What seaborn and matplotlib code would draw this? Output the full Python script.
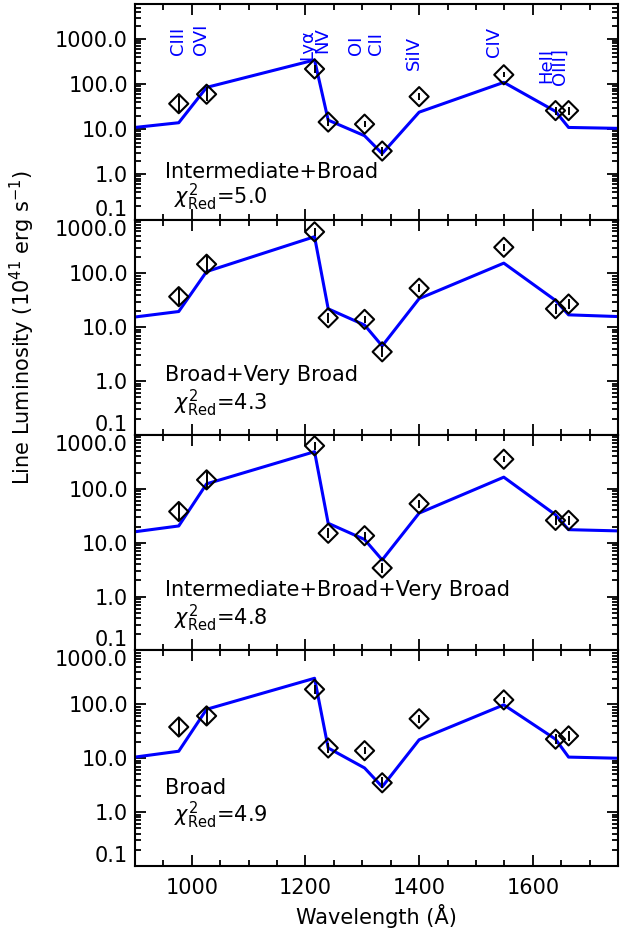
import matplotlib
matplotlib.use("Agg")
import matplotlib.pyplot as plt
import matplotlib.ticker as mticker
import numpy as np
import pandas as pd
import seaborn as sns

# ---------------- data ----------------
line_names = ["CIII", "OVI", "Lyα", "NV", "OI", "CII", "SiIV", "CIV", "HeII", "OIII]"]
line_wave = [977, 1026, 1216, 1240, 1304, 1335, 1400, 1549, 1640, 1663]
label_x = [976, 1016, 1204, 1229, 1289, 1325, 1391, 1531, 1624, 1648]
label_y = [447, 447, 347, 500, 447, 447, 209, 407, 107, 95]

# error bars (dex)
obs_err_dex = [0.18, 0.15, 0.08, 0.09, 0.07, 0.10, 0.07, 0.06, 0.09, 0.09]

obs_p1 = [37, 60, 218, 14.5, 13, 3.3, 53, 162, 26, 26]
obs_p2 = [37, 148, 590, 15, 14, 3.5, 53, 305, 22, 27]
obs_p3 = [38, 147, 630, 15, 13.5, 3.4, 53, 355, 26, 26]
obs_p4 = [38, 61, 190, 15.5, 13.8, 3.5, 54, 121, 22.6, 26]

model_wave = [900, 977, 1026, 1216, 1240, 1304, 1335, 1400, 1549, 1640, 1663, 1750]
model_p1 = [11, 14, 85, 345, 16, 7.2, 2.9, 24, 110, 25, 11, 10.5]
model_p2 = [15.5, 19.6, 108, 480, 22, 11, 4.5, 34, 155, 31.5, 17, 15.8]
model_p3 = [16, 20.5, 124, 490, 23, 11.5, 4.8, 35.5, 165, 33, 17.5, 16.6]
model_p4 = [10.5, 13.5, 81, 305, 15.5, 6.6, 2.95, 22, 98, 22.6, 10.5, 10]

panel_names = ["Intermediate+Broad", "Broad+Very Broad",
               "Intermediate+Broad+Very Broad", "Broad"]
panel_chi = ["5.0", "4.3", "4.8", "4.9"]
panel_ymax = [6000, 1000, 1000, 1000]
ytick_vals = [0.1, 1, 10, 100, 1000]
ytick_labels = ["0.1", "1.0", "10.0", "100.0", "1000.0"]

# ---------------- style ----------------
sns.set_style("ticks")
plt.rcParams["font.family"] = ["DejaVu Sans"]
plt.rcParams["mathtext.fontset"] = "dejavusans"
plt.rcParams["axes.linewidth"] = 1.5
for k in ["text.color", "axes.labelcolor", "xtick.color", "ytick.color"]:
    plt.rcParams[k] = "black"

BLUE = "#0000ff"
FS = 15

obs_all = [obs_p1, obs_p2, obs_p3, obs_p4]
model_all = [model_p1, model_p2, model_p3, model_p4]
name_pos = [(0.062, 0.22), (0.062, 0.28), (0.062, 0.28), (0.062, 0.36)]
chi_pos = [(0.080, 0.104), (0.080, 0.147), (0.080, 0.147), (0.080, 0.236)]

fig = plt.figure(figsize=(6.2, 9.36), dpi=100)
axes = fig.subplots(4, 1, sharex=True, gridspec_kw=dict(hspace=0))
fig.subplots_adjust(left=0.2177, right=0.9968, top=0.9957, bottom=0.0748)

for i, ax in enumerate(axes):
    obs = np.array(obs_all[i], dtype=float)
    err = np.array(obs_err_dex)
    dfm = pd.DataFrame({"wave": model_wave, "lum": model_all[i]})
    dfo = pd.DataFrame({"wave": line_wave, "lum": obs})

    sns.lineplot(data=dfm, x="wave", y="lum", ax=ax, color=BLUE, lw=2.2,
                 sort=False, zorder=2)
    lo = obs - obs / 10 ** err
    hi = obs * 10 ** err - obs
    ax.errorbar(line_wave, obs, yerr=[lo, hi], fmt="none", ecolor="black",
                elinewidth=1.4, capsize=0, zorder=3)
    sns.scatterplot(data=dfo, x="wave", y="lum", ax=ax, marker="D", s=95,
                    facecolor="none", edgecolor="black", linewidth=1.5, zorder=4)

    ax.set_yscale("log")
    ax.set_ylim(0.1, panel_ymax[i])
    ax.set_xlim(900, 1750)
    ax.set_yticks(ytick_vals)
    ax.set_yticklabels(ytick_labels)
    ax.yaxis.set_minor_locator(mticker.LogLocator(base=10, subs=np.arange(2, 10)))
    ax.yaxis.set_minor_formatter(mticker.NullFormatter())
    ax.xaxis.set_major_locator(mticker.MultipleLocator(200))
    ax.xaxis.set_minor_locator(mticker.MultipleLocator(50))
    ax.tick_params(which="both", direction="in", top=True, right=True,
                   width=1.3, colors="black")
    ax.tick_params(which="major", length=8, labelsize=FS)
    ax.tick_params(which="minor", length=4)
    ax.tick_params(axis="y", pad=5)
    ax.tick_params(axis="x", pad=9)
    ax.set_xlabel("")
    ax.set_ylabel("")
    for sp in ax.spines.values():
        sp.set_color("black")
        sp.set_linewidth(1.5)

    ticks = ax.yaxis.get_major_ticks()
    ticks[0].label1.set_verticalalignment("bottom")
    if panel_ymax[i] == 1000:
        ticks[-1].label1.set_verticalalignment("top")

    ax.text(name_pos[i][0], name_pos[i][1], panel_names[i], transform=ax.transAxes,
            fontsize=FS, ha="left", va="center", color="black")
    ax.text(chi_pos[i][0], chi_pos[i][1],
            r"$\chi^2_{\rm Red}$=" + panel_chi[i], transform=ax.transAxes,
            fontsize=FS, ha="left", va="center", color="black")

# line labels in the top panel
for nm, lx, ly in zip(line_names, label_x, label_y):
    axes[0].text(lx, ly, nm, rotation=90, ha="center", va="bottom",
                 color=BLUE, fontsize=13)

axes[-1].set_xlabel("Wavelength (Å)", fontsize=FS, labelpad=4)
fig.text(0.036, 0.65, r"Line Luminosity (10$^{41}$ erg s$^{-1}$)", rotation=90,
         ha="center", va="center", fontsize=FS)

fig.savefig("out.png", dpi=100)
